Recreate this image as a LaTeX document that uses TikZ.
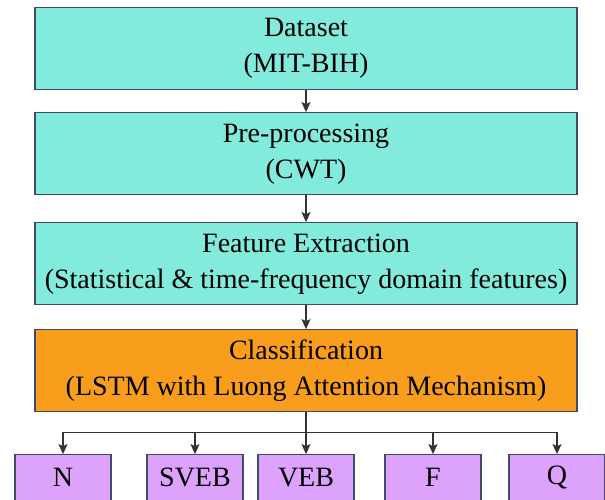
\documentclass[tikz,border=0pt]{standalone}
\usepackage{fontspec}
\setmainfont{Liberation Serif}
\usepackage{tikz}
\usetikzlibrary{arrows.meta}
\definecolor{stagecyan}{HTML}{83EBDB}
\definecolor{classorange}{HTML}{F99D1C}
\definecolor{labelviolet}{HTML}{DDA2FB}
\definecolor{boxline}{HTML}{3E4A6A}

\begin{document}
\begin{tikzpicture}[>={Stealth[length=10pt,width=9pt,inset=2pt]},x=1pt,y=1pt,
	stage/.style={draw=boxline,line width=1.3pt,fill=stagecyan,minimum width=542pt,minimum height=82pt,align=center,inner sep=0pt,font=\fontsize{28}{36}\selectfont},
	classbox/.style={draw=boxline,line width=1.3pt,fill=labelviolet,minimum width=96pt,minimum height=46pt,inner sep=0pt,font=\fontsize{28}{30}\selectfont},
	link/.style={->,draw=black!80,line width=1.3pt}]
	\useasboundingbox (0,0) rectangle (605,-499);
	\node[stage] (data) at (306,-48.75) {Dataset\\(MIT-BIH)};
	\node[stage] (pre) [node distance=105pt, below of=data] {Pre-processing\\(CWT)};
	\node[stage] (feat) [node distance=110pt, below of=pre] {Feature Extraction\\(Statistical \& time-frequency domain features)};
	\node[stage,fill=classorange] (cls) [node distance=107pt, below of=feat] {Classification\\(LSTM with Luong Attention Mechanism)};
	\node[classbox] (VEB) [node distance=107pt, below of=cls] {VEB};
	\node[classbox] (SVEB) [node distance=111pt, left of=VEB] {SVEB};
	\node[classbox] (N) [node distance=132pt, left of=SVEB] {N};
	\node[classbox] (F) [node distance=127pt, right of=VEB] {F};
	\node[classbox] (Q) [node distance=124pt, right of=F] {Q};
	\draw[link] (data) -- (pre);
	\draw[link] (pre) -- (feat);
	\draw[link] (feat) -- (cls);
	\draw[link,-] (cls.south) -- ++(0,-20) coordinate (split);
	\draw[link] (split) -- (VEB);
	\foreach \c in {N,SVEB,F,Q}
		\draw[link] (split) -| (\c);
\end{tikzpicture}
\end{document}
